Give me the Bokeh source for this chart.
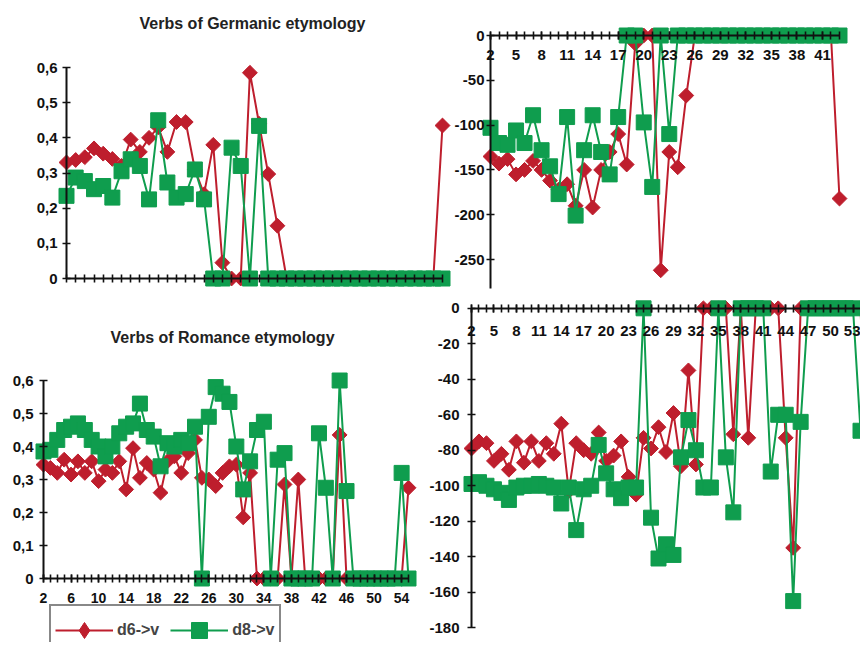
import math
from bokeh.plotting import figure
from bokeh.models import (Range1d, LinearAxis, FixedTicker, CustomJSTickFormatter,
                          Label, Legend, LegendItem)
from bokeh.embed import file_html
from bokeh.resources import INLINE

# ---------------- data ----------------
tl_cats = list(range(2, 44))
tl_d6 = [0.33, 0.337, 0.345, 0.37, 0.355, 0.34, 0.32, 0.395, 0.36, 0.40, 0.43, 0.36,
         0.445, 0.445, 0.31, 0.24, 0.38, 0.045, 0, 0, 0.585, 0.44, 0.297, 0.15,
         0, 0, 0, 0, 0, 0, 0, 0, 0, 0, 0, 0, 0, 0, 0, 0, 0, 0.435]
tl_d8 = [0.235, 0.287, 0.277, 0.254, 0.263, 0.23, 0.305, 0.339, 0.32, 0.225, 0.45, 0.273,
         0.23, 0.24, 0.31, 0.225, 0, 0, 0.372, 0.32, 0, 0.434,
         0, 0, 0, 0, 0, 0, 0, 0, 0, 0, 0, 0, 0, 0, 0, 0, 0, 0, 0, 0]

tr_cats = list(range(2, 44))
tr_d6 = [-135, -143, -138, -155, -150, -140, -150, -162, -172, -166, -190, -150,
         -192, -150, -130, -110, -144, -9, 0, 0, -262, -130, -147, -67,
         0, 0, 0, 0, 0, 0, 0, 0, 0, 0, 0, 0, 0, 0, 0, 0, 0, -182]
tr_d8 = [-103, -120, -122, -106, -120, -89, -128, -146, -177, -91, -201, -128,
         -89, -130, -155, -91, 0, 0, -97, -169, 0, -110,
         0, 0, 0, 0, 0, 0, 0, 0, 0, 0, 0, 0, 0, 0, 0, 0, 0, 0, 0, 0]

bl_cats = list(range(2, 56))
bl_d6 = [0.345, 0.335, 0.32, 0.36, 0.315, 0.355, 0.32, 0.355, 0.295, 0.33, 0.32, 0.355,
         0.27, 0.395, 0.305, 0.35, 0.33, 0.26, 0.355, 0.37, 0.32, 0.38, 0.42, 0.305,
         0.30, 0.28, 0.32, 0.34, 0.345, 0.185, 0.32, 0, 0, 0, 0, 0.285, 0, 0.30,
         0, 0, 0, 0, 0, 0.435, 0, 0, 0, 0, 0, 0, 0, 0, 0, 0.275]
bl_d8 = [0.385, 0.39, 0.42, 0.45, 0.46, 0.47, 0.45, 0.42, 0.40, 0.37, 0.40, 0.44,
         0.46, 0.47, 0.53, 0.45, 0.43, 0.34, 0.41, 0.40, 0.42, 0.41, 0.46, 0,
         0.49, 0.58, 0.56, 0.535, 0.40, 0.27, 0.355, 0.45, 0.475, 0, 0.36, 0.38,
         0, 0, 0, 0, 0.44, 0.275, 0, 0.60, 0.265, 0, 0, 0, 0, 0, 0, 0, 0.32, 0]

br_cats = list(range(2, 56))
br_d6 = [-79, -75, -76, -86, -82, -91, -75, -87, -75, -86, -76, -82, -65, -103,
         -76, -80, -82, -70, -86, -83, -75, -95, -105, -73, -79, -67, -81, -59,
         -89, -35, -88, 0, 0, 0, 0, -71, 0, -73, 0, 0, 0, 0, -73, -135,
         0, 0, 0, 0, 0, 0, 0, 0, 0, -100]
br_d8 = [-99, -98, -100, -102, -104, -108, -101, -100, -100, -99, -100, -101, -110,
         -101, -125, -102, -100, -77, -93, -102, -107, -101, -101, 0, -118, -141,
         -133, -139, -84, -63, -80, -101, -101, 0, -84, -115, 0, 0, 0, 0, -92,
         -60, -60, -165, -64, 0, 0, 0, 0, 0, 0, 0, -69, 0]

# tick labels
tl_yticks = [0, 0.1, 0.2, 0.3, 0.4, 0.5, 0.6]
tr_yticks = [0, -50, -100, -150, -200, -250]
bl_yticks = [0, 0.1, 0.2, 0.3, 0.4, 0.5, 0.6]
br_yticks = [0, -20, -40, -60, -80, -100, -120, -140, -160, -180]
tl_xlabels = []
tr_xlabels = [2, 5, 8, 11, 14, 17, 20, 23, 26, 29, 32, 35, 38, 41]
bl_xlabels = [2, 6, 10, 14, 18, 22, 26, 30, 34, 38, 42, 46, 50, 54]
br_xlabels = [2, 5, 8, 11, 14, 17, 20, 23, 26, 29, 32, 35, 38, 41, 44, 47, 50, 53]

title_top = "Verbs of Germanic etymology"
title_bottom = "Verbs of Romance etymology"
series_names = ["d6->v", "d8->v"]

# ---------------- style / layout ----------------
RED = "#BE1E2D"
GREEN = "#0F9D4E"
FONT = "Liberation Sans"
W, H = 860, 642
X0, X1 = 0, W          # page pixels covered by the canvas
Y0, Y1 = 0, H

# panel anchors: (value1, pixel1, value2, pixel2) for x and y
anchors = {
    "tl": ((2, 66, 43, 442), (0, 278, 0.6, 67)),
    "tr": ((2, 490, 43, 839), (0, 35, -250, 259)),
    "bl": ((2, 43, 55, 408), (0, 578, 0.6, 380)),
    "br": ((2, 471, 54, 860), (0, 307.8, -180, 627.2)),
}


def span(a, lo, hi):
    v1, p1, v2, p2 = a
    k = (v2 - v1) / (p2 - p1)
    return Range1d(v1 + (lo - p1) * k, v1 + (hi - p1) * k)


p = figure(width=W, height=H, output_backend="svg", toolbar_location=None,
           x_axis_type=None, y_axis_type=None, min_border=0,
           x_range=Range1d(X0, X1), y_range=Range1d(Y1, Y0))
p.title.visible = False
p.outline_line_color = None
p.background_fill_color = "white"

for name, (ax_, ay_) in anchors.items():
    p.extra_x_ranges[name + "x"] = span(ax_, X0, X1)
    p.extra_y_ranges[name + "y"] = span(ay_, Y1, Y0)

comma = CustomJSTickFormatter(code="return tick == 0 ? '0' : tick.toFixed(1).replace('.', ',');")
integer = CustomJSTickFormatter(code="return tick.toFixed(0);")


def style_axis(ax, size):
    ax.axis_line_width = 2
    ax.axis_line_color = "#111111"
    ax.major_tick_line_width = 1.6
    ax.major_tick_line_color = "#111111"
    ax.minor_tick_line_width = 1.6
    ax.minor_tick_line_color = "#111111"
    ax.major_tick_in = 4
    ax.major_tick_out = 4
    ax.minor_tick_in = 4
    ax.minor_tick_out = 4
    ax.major_label_text_font = FONT
    ax.major_label_text_font_style = "bold"
    ax.major_label_text_font_size = size
    ax.major_label_text_color = "#111111"


def add_yaxis(name, bounds, ticks, fmt, standoff):
    ax = LinearAxis(x_range_name=name + "x", y_range_name=name + "y",
                    fixed_location=2, bounds=bounds,
                    ticker=FixedTicker(ticks=ticks), formatter=fmt)
    style_axis(ax, "15px")
    ax.major_label_standoff = standoff
    p.add_layout(ax, "left")


def add_xaxis(name, cats, labels, standoff, size):
    ax = LinearAxis(x_range_name=name + "x", y_range_name=name + "y",
                    fixed_location=0, bounds=(cats[0], cats[-1]),
                    ticker=FixedTicker(ticks=labels, minor_ticks=cats), formatter=integer)
    style_axis(ax, size)
    ax.major_label_standoff = standoff
    p.add_layout(ax, "below")


add_yaxis("tl", (0, 0.6), tl_yticks, comma, 5)
add_yaxis("tr", (-282, 0), tr_yticks, integer, 2)
add_yaxis("bl", (0, 0.6), bl_yticks, comma, 6)
add_yaxis("br", (-180, 0), br_yticks, integer, 8)

add_xaxis("tl", tl_cats, tl_xlabels, 8, "15px")
add_xaxis("tr", tr_cats, tr_xlabels, 10, "15px")
add_xaxis("bl", bl_cats, bl_xlabels, 10, "14px")
add_xaxis("br", br_cats, br_xlabels, 14, "15px")

legend_lines = []
for name, cats, d6, d8 in [("tl", tl_cats, tl_d6, tl_d8), ("tr", tr_cats, tr_d6, tr_d8),
                           ("bl", bl_cats, bl_d6, bl_d8), ("br", br_cats, br_d6, br_d8)]:
    kw = dict(x_range_name=name + "x", y_range_name=name + "y")
    lr = p.line(cats, d6, line_color=RED, line_width=2, **kw)
    p.scatter(cats, d6, marker="square", angle=math.pi / 4, size=10.5,
              fill_color=RED, line_color=RED, **kw)
    lg = p.line(cats, d8, line_color=GREEN, line_width=2, **kw)
    p.scatter(cats, d8, marker="square", size=15, fill_color=GREEN, line_color=GREEN, **kw)
    if name == "tl":
        legend_lines = [lr, lg]

# legend-only marker renderers (a single missing value, nothing drawn on the plot)
leg_red = p.scatter([math.nan], [math.nan], marker="diamond", fill_color=RED, line_color=RED)
leg_green = p.scatter([math.nan], [math.nan], marker="square", fill_color=GREEN, line_color=GREEN)

legend = Legend(items=[LegendItem(label=series_names[0], renderers=[legend_lines[0], leg_red]),
                       LegendItem(label=series_names[1], renderers=[legend_lines[1], leg_green])],
                orientation="horizontal", location=(49, -14), margin=0,
                glyph_width=58, glyph_height=40, label_standoff=4, spacing=11, padding=4,
                border_line_color="#111111", border_line_width=2,
                label_text_font=FONT, label_text_font_style="bold", label_text_font_size="16px",
                background_fill_color="white", background_fill_alpha=1)
p.add_layout(legend)

for txt, x, y in [(title_top, 252, 23), (title_bottom, 222, 337)]:
    p.add_layout(Label(x=x, y=y, text=txt, text_align="center", text_baseline="middle",
                       text_font=FONT, text_font_style="bold", text_font_size="16px",
                       text_color="#222222"))

open("out.html", "w").write(file_html(p, INLINE))
